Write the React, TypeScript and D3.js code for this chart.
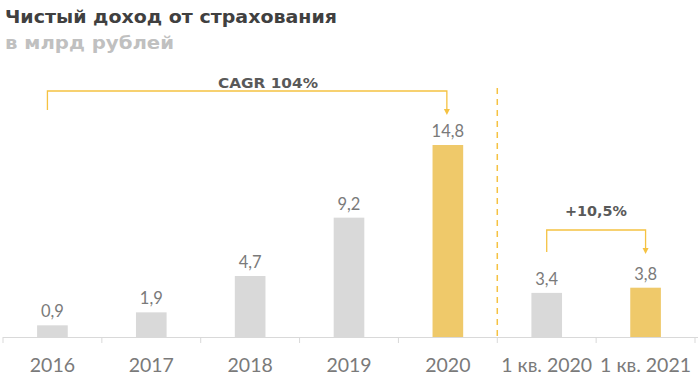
import React from "react";
import * as d3 from "d3";

const categories = ["2016", "2017", "2018", "2019", "2020", "1 кв. 2020", "1 кв. 2021"];
const values = [0.9, 1.9, 4.7, 9.2, 14.8, 3.4, 3.8];
const highlighted = [false, false, false, false, true, false, true];
const valueLabels = ["0,9", "1,9", "4,7", "9,2", "14,8", "3,4", "3,8"];
const title = "Чистый доход от страхования";
const subtitle = "в млрд рублей";
const cagrText = "CAGR 104%";
const growthText = "+10,5%";

export default function App() {
  const W = 700, H = 384;
  const x0 = 3, x1 = 695, baseY = 337;
  const x = d3.scaleBand<string>().domain(categories).range([x0, x1]).paddingInner(0.69).paddingOuter(0.345);
  const band = (x1 - x0) / categories.length;
  const y = d3.scaleLinear().domain([0, 14.8]).range([baseY, 145]);
  const gray = "#d9d9d9", gold = "#efc96a", line = "#f5c242", textGray = "#7a7a7a";
  const cx = (c: string) => (x(c) as number) + x.bandwidth() / 2;
  const sepX = x0 + band * 5;
  const heavy = "DejaVu Sans, Verdana, sans-serif";

  const c0 = cx(categories[0]) - 5, c4 = cx(categories[4]);
  const c5 = cx(categories[5]), c6 = cx(categories[6]);

  return (
    <svg width={W} height={H} style={{ position: "absolute", left: 0, top: 0, background: "#fff" }}>
      <text x={5} y={23} fontFamily={heavy} fontWeight="bold" fontSize={17.5} fill="#404040" textLength={332} lengthAdjust="spacingAndGlyphs">{title}</text>
      <text x={5} y={49} fontFamily={heavy} fontWeight="bold" fontSize={17.5} fill="#c0c0c0" textLength={169} lengthAdjust="spacingAndGlyphs">{subtitle}</text>

      {categories.map((c, i) => (
        <g key={c}>
          <rect x={x(c)} y={y(values[i])} width={x.bandwidth()} height={baseY - y(values[i])} fill={highlighted[i] ? gold : gray} />
          <text x={cx(c)} y={y(values[i]) - 8} textAnchor="middle" fontFamily="Lato, sans-serif" fontSize={16.5} fill={textGray}>{valueLabels[i]}</text>
          <text x={x0 + band * (i + 0.5)} y={372} textAnchor="middle" fontFamily="Lato, sans-serif" fontSize={19.5} fill={textGray}>{c}</text>
        </g>
      ))}

      <line x1={x0} x2={x1 + 3} y1={baseY + 0.5} y2={baseY + 0.5} stroke="#d9d9d9" />
      {d3.range(categories.length + 1).map((i) => (
        <line key={i} x1={x0 + band * i} x2={x0 + band * i} y1={baseY} y2={baseY + 6} stroke="#d9d9d9" />
      ))}

      <line x1={sepX} x2={sepX} y1={88} y2={baseY} stroke={line} strokeWidth={1.5} strokeDasharray="6,5" />

      <path d={`M${c0},110 V91 H${c4 - 1} V111`} fill="none" stroke={line} strokeWidth={1.3} />
      <path d={`M${c4 - 4},109 L${c4 - 1},115 L${c4 + 2},109 Z`} fill={line} />
      <text x={268} y={88} textAnchor="middle" fontFamily={heavy} fontWeight="bold" fontSize={14.5} fill="#595959" textLength={100} lengthAdjust="spacingAndGlyphs">{cagrText}</text>

      <path d={`M${c5},252 V230 H${c6} V250`} fill="none" stroke={line} strokeWidth={1.3} />
      <path d={`M${c6 - 3},248 L${c6},254 L${c6 + 3},248 Z`} fill={line} />
      <text x={596} y={216} textAnchor="middle" fontFamily={heavy} fontWeight="bold" fontSize={14.5} fill="#595959" textLength={62} lengthAdjust="spacingAndGlyphs">{growthText}</text>
    </svg>
  );
}
